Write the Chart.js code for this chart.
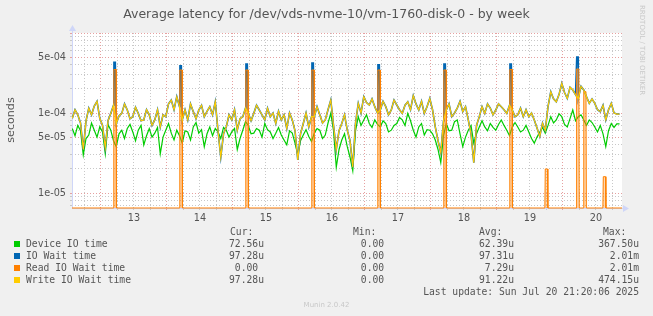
<!DOCTYPE html>
<html>
<head>
<meta charset="utf-8">
<title>Average latency for /dev/vds-nvme-10/vm-1760-disk-0 - by week</title>
<script src="https://cdn.jsdelivr.net/npm/chart.js@4.4.1/dist/chart.umd.min.js"></script>
<style>
  html, body { margin: 0; padding: 0; background: #f0f0f0; }
  #wrap { position: relative; width: 653px; height: 316px; overflow: hidden; font-family: "DejaVu Sans", sans-serif; color: #555; }
  canvas { position: absolute; left: 0; top: 0; }
  .t { position: absolute; white-space: pre; line-height: 12px; }
  .mono { font-family: "DejaVu Sans Mono", monospace; font-size: 9.7px; }
  .sw { position: absolute; width: 6px; height: 6px; }
</style>
</head>
<body>
<div id="wrap">
  <canvas id="chart" width="653" height="316"></canvas>
  <div class="t" style="left:0;width:653px;top:8px;text-align:center;font-size:12.5px;">Average latency for /dev/vds-nvme-10/vm-1760-disk-0 - by week</div>
  <div class="t" style="left:-39px;top:113px;width:100px;height:14px;line-height:14px;text-align:center;font-size:11.1px;transform:rotate(-90deg);">seconds</div>
  <div class="t" style="left:637px;top:5px;writing-mode:vertical-rl;font-size:7px;line-height:9px;color:#c8c8c8;">RRDTOOL / TOBI OETIKER</div>
  <div class="t" style="left:0;width:653px;top:300px;text-align:center;font-size:7px;line-height:10px;color:#c8c8c8;">Munin 2.0.42</div>
  <div id="legend"></div>
</div>
<script>
// Munin "by week" latency graph.
// x = hours since Jul 12 00:00, y = seconds (values below are in microseconds).

const hours = [];
for (let h = 13.6; h < 213.5; h += 1) hours.push(+h.toFixed(1));

const deviceIo = [
  64, 52, 70, 60, 30, 48, 53, 75, 61, 50, 67, 58, 31, 72, 61, 45, 38, 55, 61, 48,
  64, 72, 58, 45, 61, 70, 40, 52, 64, 50, 56, 66, 31, 50, 61, 74, 56, 46, 61, 52,
  42, 60, 58, 46, 67, 76, 56, 62, 38, 55, 67, 52, 64, 58, 48, 66, 61, 50, 58, 64,
  35, 48, 61, 78, 70, 55, 56, 64, 61, 50, 74, 62, 58, 48, 56, 66, 53, 46, 40, 60,
  56, 42, 30, 45, 53, 62, 51, 44, 56, 64, 61, 48, 53, 75, 99, 60, 21, 35, 46, 55,
  38, 28, 19, 60, 90, 70, 82, 95, 74, 66, 82, 72, 67, 80, 74, 58, 61, 70, 74, 88,
  82, 70, 99, 80, 61, 50, 67, 74, 53, 62, 61, 55, 46, 35, 24, 52, 74, 60, 61, 78,
  82, 55, 38, 50, 61, 70, 42, 55, 67, 80, 67, 60, 74, 66, 61, 72, 82, 70, 61, 52,
  67, 76, 67, 58, 61, 70, 58, 48, 42, 50, 58, 66, 56, 70, 90, 75, 82, 98, 90, 72,
  67, 85, 109, 80, 90, 95, 82, 70, 82, 76, 67, 58, 70, 55, 38, 60, 74, 66, 73, 73
];

const writeWait = [
  86, 110, 95, 75, 35, 80, 115, 95, 122, 140, 86, 70, 37, 80, 99, 125, 74, 92, 99, 130,
  109, 85, 90, 118, 99, 80, 82, 110, 95, 70, 82, 110, 67, 95, 90, 130, 145, 110, 160, 120,
  82, 110, 82, 130, 104, 85, 109, 125, 90, 105, 120, 95, 138, 60, 28, 55, 67, 95, 82, 110,
  61, 85, 90, 115, 99, 80, 99, 125, 109, 95, 82, 115, 90, 100, 74, 105, 82, 95, 64, 100,
  82, 60, 26, 55, 74, 100, 67, 90, 90, 120, 95, 75, 82, 110, 145, 70, 35, 60, 74, 95,
  61, 45, 21, 75, 132, 100, 160, 135, 126, 150, 120, 100, 109, 140, 120, 95, 109, 145, 126, 110,
  99, 125, 138, 110, 165, 130, 109, 140, 99, 120, 152, 110, 67, 45, 32, 80, 109, 130, 90, 100,
  115, 140, 104, 120, 82, 55, 24, 70, 90, 120, 99, 130, 115, 95, 109, 130, 120, 110, 99, 125,
  109, 90, 95, 115, 90, 110, 90, 100, 82, 65, 51, 75, 61, 120, 185, 150, 138, 170, 235, 180,
  152, 210, 194, 170, 152, 215, 194, 160, 132, 150, 132, 110, 104, 125, 82, 110, 132, 100, 97, 97
];

// IO wait follows write wait, except for the daily read bursts
const waitSpikeHours = [29.1, 53.1, 77.1, 101.1, 125.1, 149.1, 173.1, 197.4];
const waitSpikePeaks = [430, 390, 410, 420, 400, 410, 410, 500];

// read wait is zero apart from these bursts
const readSpikeHours = [29.1, 53.1, 77.1, 101.1, 125.1, 149.1, 173.1, 186.0, 197.4, 200.0, 207.1];
const readSpikePeaks = [350, 345, 345, 345, 345, 345, 350, 20, 355, 185, 16];

const xGridHours = [];
for (let h = 18; h <= 210; h += 6) xGridHours.push(h);
const xTickHours = [36, 60, 84, 108, 132, 156, 180, 204];
const xTickLabels = ["13", "14", "15", "16", "17", "18", "19", "20"];

const yGridValues = [
  7e-6, 8e-6, 9e-6,
  1e-5, 2e-5, 3e-5, 4e-5, 5e-5, 6e-5, 7e-5, 8e-5, 9e-5,
  1e-4, 2e-4, 3e-4, 4e-4, 5e-4, 6e-4, 7e-4, 8e-4, 9e-4,
  1e-3
];
const yTickValues = [1e-5, 5e-5, 1e-4, 5e-4];
const yTickLabels = ["1e-05", "5e-05", "1e-04", "5e-04"];

const legendNames = ["Device IO time", "IO Wait time", "Read IO Wait time", "Write IO Wait time"];
const legendColors = ["#00cc00", "#0066b3", "#ff8000", "#ffcc00"];
const curText = ["72.56u", "97.28u", "0.00 ", "97.28u"];
const minText = ["0.00 ", "0.00 ", "0.00 ", "0.00 "];
const avgText = ["62.39u", "97.31u", "7.29u", "91.22u"];
const maxText = ["367.50u", "2.01m", "2.01m", "474.15u"];
const lastUpdate = "Last update: Sun Jul 20 21:20:06 2025";

const yMin = 6.5e-6;
const yMax = 1e-3;
const minorGrid = "#c8c8c8";
const majorGrid = "#e6a0a0";
const axisColor = "#cfd6f8";

function toPoints(hs, vals) {
  return hs.map((h, i) => ({ x: h, y: vals[i] * 1e-6 }));
}

const devicePoints = toPoints(hours, deviceIo);
const writePoints = toPoints(hours, writeWait);

const waitPoints = writePoints.slice();
waitSpikeHours.forEach((h, i) => {
  waitPoints.push({ x: h - 0.35, y: waitSpikePeaks[i] * 1e-6 });
  waitPoints.push({ x: h + 0.15, y: waitSpikePeaks[i] * 1e-6 });
});
waitPoints.sort((a, b) => a.x - b.x);

const readPoints = [{ x: 13.5, y: yMin }];
readSpikeHours.forEach((h, i) => {
  readPoints.push({ x: h - 0.55, y: yMin });
  readPoints.push({ x: h - 0.4, y: readSpikePeaks[i] * 1e-6 });
  readPoints.push({ x: h + 0.4, y: readSpikePeaks[i] * 1e-6 });
  readPoints.push({ x: h + 0.55, y: yMin });
});
readPoints.push({ x: 213.5, y: yMin });

function isMajorY(v) {
  const m = v / Math.pow(10, Math.floor(Math.log10(v) + 1e-9));
  return Math.abs(m - 1) < 1e-6 || Math.abs(m - 5) < 1e-6;
}

const framePlugin = {
  id: "frame",
  beforeDraw(chart) {
    const { ctx, chartArea: a } = chart;
    ctx.save();
    ctx.fillStyle = "#ffffff";
    ctx.fillRect(a.left, a.top, a.right - a.left, a.bottom - a.top);
    ctx.restore();
  },
  beforeDatasetsDraw(chart) {
    const { ctx, chartArea: a } = chart;
    ctx.save();
    ctx.strokeStyle = axisColor;
    ctx.fillStyle = axisColor;
    ctx.lineWidth = 1;
    ctx.beginPath();
    ctx.moveTo(a.left + 0.5, a.bottom + 0.5);
    ctx.lineTo(a.left + 0.5, a.top - 4);
    ctx.moveTo(a.left, a.bottom + 0.5);
    ctx.lineTo(a.right + 3, a.bottom + 0.5);
    ctx.stroke();
    ctx.beginPath();
    ctx.moveTo(a.left + 0.5, a.top - 8);
    ctx.lineTo(a.left - 3, a.top - 2);
    ctx.lineTo(a.left + 4, a.top - 2);
    ctx.closePath();
    ctx.fill();
    ctx.beginPath();
    ctx.moveTo(a.right + 7, a.bottom + 0.5);
    ctx.lineTo(a.right + 1, a.bottom - 3);
    ctx.lineTo(a.right + 1, a.bottom + 4);
    ctx.closePath();
    ctx.fill();
    ctx.restore();
  }
};

Chart.defaults.font.family = "'DejaVu Sans', sans-serif";
Chart.defaults.font.size = 9.7;
Chart.defaults.color = "#555";

new Chart(document.getElementById("chart"), {
  type: "line",
  data: {
    datasets: [
      {
        label: "Write IO Wait time",
        data: writePoints,
        borderColor: "#ffcc00",
        borderWidth: 1.2,
        order: 0
      },
      {
        label: "Read IO Wait time",
        data: readPoints,
        borderColor: "#ff8000",
        backgroundColor: "rgba(255, 128, 0, 0.3)",
        fill: "start",
        clip: { left: 0, top: 0, right: 0, bottom: 2 },
        order: 1
      },
      {
        label: "IO Wait time",
        data: waitPoints,
        borderColor: "#0066b3",
        borderWidth: 1.6,
        order: 2
      },
      {
        label: "Device IO time",
        data: devicePoints,
        borderColor: "#00cc00",
        borderWidth: 1.2,
        order: 3
      }
    ]
  },
  options: {
    responsive: false,
    animation: false,
    devicePixelRatio: 1,
    layout: { padding: { left: 0, right: 31, top: 33, bottom: 0 } },
    elements: {
      point: { radius: 0 },
      line: { borderWidth: 1, tension: 0 }
    },
    plugins: {
      legend: { display: false },
      tooltip: { enabled: false },
      title: { display: false }
    },
    scales: {
      x: {
        type: "linear",
        min: 13.5,
        max: 213.5,
        afterFit: (scale) => { scale.height = 108; },
        afterBuildTicks: (scale) => {
          scale.ticks = xGridHours.map((v) => ({ value: v }));
        },
        ticks: {
          autoSkip: false,
          maxRotation: 0,
          padding: 3,
          callback: (value) => {
            const k = xTickHours.indexOf(value);
            return k >= 0 ? xTickLabels[k] : "";
          }
        },
        grid: {
          color: (ctx) => (ctx.tick && ctx.tick.value % 24 === 0 ? majorGrid : minorGrid),
          tickColor: (ctx) => (ctx.tick && ctx.tick.value % 24 === 0 ? majorGrid : minorGrid),
          tickLength: 2,
          lineWidth: 1
        },
        border: { display: false, dash: [1, 2] }
      },
      y: {
        type: "logarithmic",
        min: yMin,
        max: yMax,
        afterFit: (scale) => { scale.width = 72; },
        afterBuildTicks: (scale) => {
          scale.ticks = yGridValues.map((v) => ({ value: v }));
        },
        ticks: {
          autoSkip: false,
          padding: 4,
          callback: (value) => {
            const k = yTickValues.findIndex((v) => Math.abs(v - value) < v * 1e-6);
            return k >= 0 ? yTickLabels[k] : "";
          }
        },
        grid: {
          color: (ctx) => (ctx.tick && isMajorY(ctx.tick.value) ? majorGrid : minorGrid),
          tickColor: (ctx) => (ctx.tick && isMajorY(ctx.tick.value) ? majorGrid : minorGrid),
          tickLength: 2,
          lineWidth: 1
        },
        border: { display: false, dash: [1, 2] }
      }
    }
  },
  plugins: [framePlugin]
});

// legend table under the plot
const legend = document.getElementById("legend");
function addText(text, left, top, width, align) {
  const d = document.createElement("div");
  d.className = "t mono";
  d.textContent = text;
  d.style.left = left + "px";
  d.style.top = top + "px";
  if (width) {
    d.style.width = width + "px";
    d.style.textAlign = align;
  }
  legend.appendChild(d);
}

addText("Cur:", 230, 226);
addText("Min:", 353, 226);
addText("Avg:", 479, 226);
addText("Max:", 603, 226);

const rowTops = [238, 250, 262, 274];
legendNames.forEach((name, i) => {
  const sw = document.createElement("div");
  sw.className = "sw";
  sw.style.left = "14px";
  sw.style.top = rowTops[i] + 3 + "px";
  sw.style.background = legendColors[i];
  legend.appendChild(sw);
  addText(name, 26, rowTops[i]);
  addText(curText[i], 164, rowTops[i], 100, "right");
  addText(minText[i], 290, rowTops[i], 100, "right");
  addText(avgText[i], 414, rowTops[i], 100, "right");
  addText(maxText[i], 539, rowTops[i], 100, "right");
});
addText(lastUpdate, 339, 286, 300, "right");
</script>
</body>
</html>
